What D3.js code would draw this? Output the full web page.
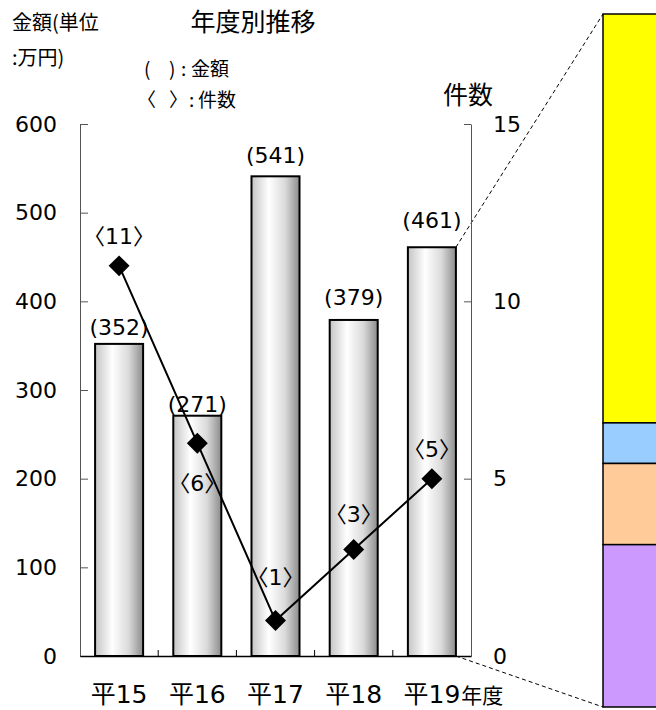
<!DOCTYPE html>
<html>
<head>
<meta charset="utf-8">
<script src="https://cdn.jsdelivr.net/npm/d3@7"></script>
<style>
  html, body { margin: 0; padding: 0; background: #fff; }
  svg { display: block; font-family: "DejaVu Sans", "Noto Sans CJK JP", sans-serif; }
  .jp { font-family: "Noto Sans CJK JP", sans-serif; }
</style>
</head>
<body>
<svg id="chart" width="656" height="710"></svg>
<script>
// Yearly amounts (万円) and case counts
const years = ["平15", "平16", "平17", "平18", "平19"];
const amounts = [352, 271, 541, 379, 461];
const counts = [11, 6, 1, 3, 5];
const amountTicks = [0, 100, 200, 300, 400, 500, 600];
const countTicks = [0, 5, 10, 15];
// Breakdown of the latest year, drawn top to bottom
const breakdown = [272, 27, 54, 108];
const breakdownColors = ["#ffff00", "#99ccff", "#ffcc99", "#cc99ff"];

// Label nudges (px, relative to mark) for readability
const amountLabelDy = [-16, -11, -21, -22, -27];
const countLabelDy = [-29, 40, -43, -35, -29];

const svg = d3.select("#chart");
const plotLeft = 80, plotRight = 471, plotTop = 124, plotBottom = 656;
const numFont = "'DejaVu Sans', 'Noto Sans CJK JP', sans-serif";

const x = d3.scaleBand().domain(years).range([plotLeft, plotRight])
  .paddingInner(0.386).paddingOuter(0.193);
const yAmt = d3.scaleLinear().domain([0, 600]).range([plotBottom, plotTop]);
const yCnt = d3.scaleLinear().domain([0, 15]).range([plotBottom, plotTop]);

// Bar shading
const defs = svg.append("defs");
const grad = defs.append("linearGradient").attr("id", "barShade")
  .attr("x1", "0%").attr("x2", "100%").attr("y1", "0%").attr("y2", "0%");
[[0, "#c4c4c4"], [0.36, "#ffffff"], [0.7, "#dadada"], [1, "#8c8c8c"]]
  .forEach(([o, c]) => grad.append("stop").attr("offset", o).attr("stop-color", c));

// Breakdown column on the right
const segX = 603, segW = 70, segTop = 14, segBottom = 707;
const total = d3.sum(breakdown);
const yBr = d3.scaleLinear().domain([0, total]).range([segBottom, segTop]);
const cumAbove = breakdown.map((d, i) => total - d3.sum(breakdown.slice(0, i)));
svg.append("g").selectAll("rect").data(breakdown).join("rect")
  .attr("x", segX).attr("width", segW)
  .attr("y", (d, i) => yBr(cumAbove[i]))
  .attr("height", d => yBr(0) - yBr(d))
  .attr("fill", (d, i) => breakdownColors[i])
  .attr("stroke", "#000").attr("stroke-width", 1.5);

// Connector lines from the last bar to the breakdown column
const last = years.length - 1;
const lastRight = x(years[last]) + x.bandwidth();
svg.append("g").selectAll("line").data([total, 0]).join("line")
  .attr("x1", lastRight).attr("y1", d => yAmt(d === 0 ? 0 : amounts[last]))
  .attr("x2", segX).attr("y2", d => yBr(d))
  .attr("stroke", "#000").attr("stroke-width", 1).attr("stroke-dasharray", "4,3");

// Bars
svg.append("g").selectAll("rect").data(amounts).join("rect")
  .attr("x", (d, i) => x(years[i]))
  .attr("y", d => yAmt(d))
  .attr("width", x.bandwidth())
  .attr("height", d => yAmt(0) - yAmt(d))
  .attr("fill", "url(#barShade)")
  .attr("stroke", "#000").attr("stroke-width", 2);

// Axes
const gL = svg.append("g").attr("transform", `translate(${plotLeft},0)`)
  .call(d3.axisLeft(yAmt).tickValues(amountTicks).tickSizeInner(-8).tickSizeOuter(0).tickPadding(23));
const gR = svg.append("g").attr("transform", `translate(${plotRight},0)`)
  .call(d3.axisRight(yCnt).tickValues(countTicks).tickSizeInner(-7).tickSizeOuter(0).tickPadding(22));
[gL, gR].forEach(g => {
  g.select(".domain").attr("stroke", "#555").attr("stroke-width", 1);
  g.selectAll(".tick line").attr("stroke", "#555");
  g.selectAll("text").attr("font-size", 22).attr("fill", "#000").attr("font-family", numFont);
});

const gX = svg.append("g").attr("transform", `translate(0,${plotBottom})`)
  .call(d3.axisBottom(x).tickSize(0));
gX.select(".domain").attr("stroke", "#000").attr("stroke-width", 1.5);
gX.selectAll("text").attr("font-size", 25).attr("fill", "#000")
  .attr("font-family", numFont).attr("dy", null).attr("y", 47);
// Category separators on the baseline
const step = x.step();
gX.append("g").selectAll("line").data(years.slice(1)).join("line")
  .attr("x1", d => x(d) - step * x.paddingInner() / 2)
  .attr("x2", d => x(d) - step * x.paddingInner() / 2)
  .attr("y1", 0).attr("y2", -6)
  .attr("stroke", "#000").attr("stroke-width", 1);

// Count line with diamond markers
const cx = (i) => x(years[i]) + x.bandwidth() / 2;
svg.append("path").datum(counts)
  .attr("d", d3.line().x((d, i) => cx(i)).y(d => yCnt(d)))
  .attr("fill", "none").attr("stroke", "#000").attr("stroke-width", 2);
svg.append("g").selectAll("path").data(counts).join("path")
  .attr("d", d3.symbol(d3.symbolSquare, 220))
  .attr("transform", (d, i) => `translate(${cx(i)},${yCnt(d)}) rotate(45)`)
  .attr("fill", "#000");

// Value labels
svg.append("g").selectAll("text").data(amounts).join("text")
  .attr("x", (d, i) => cx(i))
  .attr("y", (d, i) => yAmt(d) + amountLabelDy[i])
  .attr("text-anchor", "middle").attr("dominant-baseline", "central")
  .attr("font-size", 22).attr("font-family", numFont)
  .text(d => `(${d})`);
svg.append("g").selectAll("text").data(counts).join("text")
  .attr("x", (d, i) => cx(i))
  .attr("y", (d, i) => yCnt(d) + countLabelDy[i])
  .attr("text-anchor", "middle").attr("dominant-baseline", "central")
  .attr("font-size", 22).attr("font-family", numFont)
  .text(d => `〈${d}〉`);

// Titles and legend
svg.append("text").attr("class", "jp").attr("x", 253).attr("y", 31).attr("text-anchor", "middle")
  .attr("font-size", 25).text("年度別推移");
svg.append("text").attr("class", "jp").attr("x", 12).attr("y", 30).attr("font-size", 20).text("金額(単位");
svg.append("text").attr("class", "jp").attr("x", 12).attr("y", 65).attr("font-size", 20).text(":万円)");

const leg1 = svg.append("text").attr("class", "jp").attr("y", 76).attr("font-size", 19);
leg1.append("tspan").attr("x", 144).text("(");
leg1.append("tspan").attr("x", 169).text(")");
leg1.append("tspan").attr("x", 181).text(":");
leg1.append("tspan").attr("x", 191).text("金額");
const leg2 = svg.append("text").attr("class", "jp").attr("y", 107).attr("font-size", 19);
leg2.append("tspan").attr("x", 137).text("〈");
leg2.append("tspan").attr("x", 169).text("〉");
leg2.append("tspan").attr("x", 189).text(":");
leg2.append("tspan").attr("x", 198).text("件数");

svg.append("text").attr("class", "jp").attr("x", 443).attr("y", 104).attr("font-size", 25).text("件数");

// Unit for the category axis, set right after the last category label
const lastLabel = gX.selectAll(".tick text").nodes()[last];
const lastHalf = lastLabel.getComputedTextLength() / 2;
svg.append("text").attr("class", "jp")
  .attr("x", cx(last) + lastHalf + 1).attr("y", 703).attr("font-size", 21).text("年度");
</script>
</body>
</html>
